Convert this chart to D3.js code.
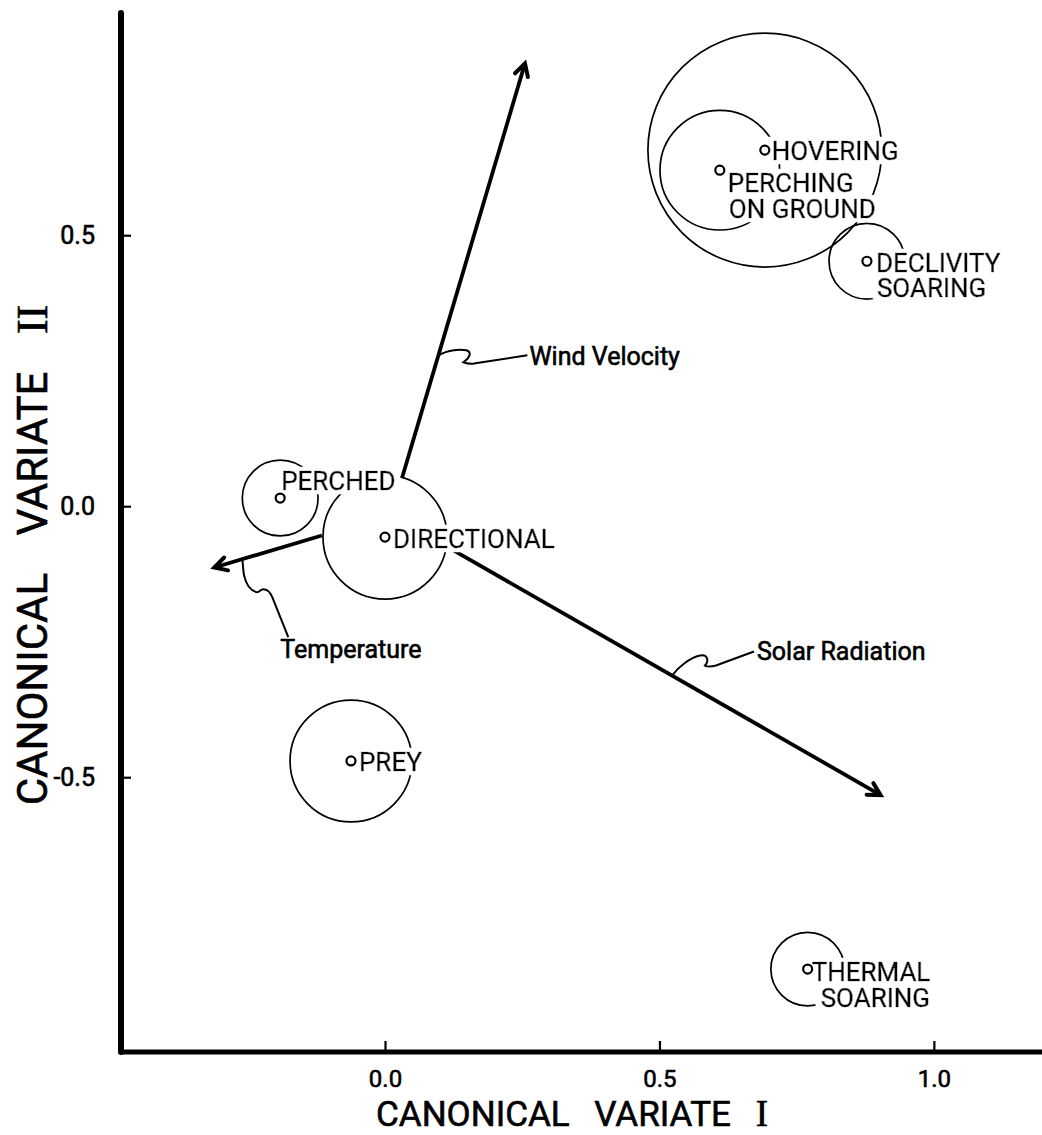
<!DOCTYPE html>
<html>
<head>
<meta charset="utf-8">
<script src="https://cdn.jsdelivr.net/npm/d3@7"></script>
<style>
  html, body { margin: 0; padding: 0; background: #fff; }
  svg { display: block; }
  text { font-family: Roboto, "Liberation Sans", sans-serif; fill: #000; }
  .ink { stroke: #000; stroke-width: 0.6px; }
</style>
</head>
<body>
<svg id="chart" width="1042" height="1135"></svg>
<script>
// Behaviour-group centroids on the first two canonical variates
const groups = ["HOVERING", "PERCHING ON GROUND", "DECLIVITY SOARING", "PERCHED", "DIRECTIONAL", "PREY", "THERMAL SOARING"];
const cv1 = [0.692, 0.610, 0.878, -0.191, 0.000, -0.062, 0.770];
const cv2 = [0.657, 0.620, 0.452, 0.015, -0.057, -0.470, -0.854];
// Radius of the dispersion circle round each centroid (canonical units)
const spread = [0.213, 0.109, 0.069, 0.069, 0.113, 0.111, 0.067];

// Environmental variable vectors (tail and head, canonical units)
const variables = ["Wind Velocity", "Solar Radiation", "Temperature"];
const tailI  = [0.031, 0.124, -0.115];
const tailII = [0.052, -0.081, -0.054];
const headI  = [0.255, 0.903, -0.311];
const headII = [0.817, -0.533, -0.113];

// Axis ticks and titles
const xTicks = [0.0, 0.5, 1.0];
const yTicks = [-0.5, 0.0, 0.5];
const xTitle = ["CANONICAL", "VARIATE", "I"];
const yTitle = ["CANONICAL", "VARIATE", "II"];

// ---- layout ----
const svg = d3.select("#chart");

// white halo drawn behind lettering so the circles break under the labels
const defs = svg.append("defs");
const halo = defs.append("filter").attr("id", "halo")
  .attr("x", "-10%").attr("y", "-30%").attr("width", "120%").attr("height", "160%");
halo.append("feMorphology").attr("in", "SourceAlpha").attr("operator", "dilate").attr("radius", "6 3.5").attr("result", "grow");
halo.append("feFlood").attr("flood-color", "#fff").attr("result", "white");
halo.append("feComposite").attr("in", "white").attr("in2", "grow").attr("operator", "in").attr("result", "pad");
const merge = halo.append("feMerge");
merge.append("feMergeNode").attr("in", "pad");
merge.append("feMergeNode").attr("in", "SourceGraphic");

const x = d3.scaleLinear().domain([-0.481, 1.197]).range([121, 1042]);
const y = d3.scaleLinear().domain([-1.007, 0.910]).range([1052, 13]);
const rPx = v => x(v) - x(0);

// label placement next to each centroid marker (pixels)
const labelPlace = {
  "HOVERING":           { dx: 7,  dy: 10, lines: [[0, 0]] },
  "PERCHING ON GROUND": { dx: 8,  dy: 22, lines: [[0, 0], [1, 26]], split: ["PERCHING", "ON GROUND"] },
  "DECLIVITY SOARING":  { dx: 9,  dy: 11, lines: [[0, 0], [1, 25]], split: ["DECLIVITY", "SOARING"] },
  "PERCHED":            { dx: 1,  dy: -8, lines: [[0, 0]] },
  "DIRECTIONAL":        { dx: 8,  dy: 11, lines: [[0, 0]] },
  "PREY":               { dx: 8,  dy: 10, lines: [[0, 0]] },
  "THERMAL SOARING":    { dx: 4,  dy: 12, lines: [[0, 0], [9, 26]], split: ["THERMAL", "SOARING"] }
};

// leader squiggles from each vector to its label (pixels, relative to anchor)
const leaderPlace = {
  "Wind Velocity":   { t: 0.296, path: "M0,0 C10,-6 22,-6 28,-5 C34,-3 31,3 25,7 C30,9 33,9 37,8 L89,0", tx: 91, ty: 10 },
  "Solar Radiation": { t: 0.512, path: "M0,0 C6,-8 18,-18 28,-20 C36,-22 37,-14 33,-10 C36,-8 40,-9 44,-10 L82,-24", tx: 85, ty: -16 },
  "Temperature":     { t: 0.740, path: "M0,0 C1,8 1,14 2,17 C4,26 8,31 14,33 C17,34 18,30 21,30 C25,30 28,33 30,38 L46,78", tx: 38, ty: 99 }
};

// ---- axes ----
const xAxis = d3.axisBottom(x)
  .tickValues(xTicks)
  .tickSize(-11)
  .tickPadding(18)
  .tickFormat(d => d.toFixed(1));
const gx = svg.append("g").attr("transform", `translate(0,${y.range()[0]})`).call(xAxis);
gx.select(".domain").remove();
gx.selectAll(".tick line").attr("stroke", "#000").attr("stroke-width", 2.2);
gx.selectAll(".tick text").attr("font-size", 24).attr("fill", "#000").attr("class", "ink");

const yAxis = d3.axisLeft(y)
  .tickValues(yTicks)
  .tickSize(-10)
  .tickPadding(26)
  .tickFormat(d => d.toFixed(1));
const gy = svg.append("g").attr("transform", `translate(${x.range()[0]},0)`).call(yAxis);
gy.select(".domain").remove();
gy.selectAll(".tick line").attr("stroke", "#000").attr("stroke-width", 2.2);
gy.selectAll(".tick text").attr("font-size", 25).attr("fill", "#000").attr("class", "ink");

// heavy axis lines
svg.append("line")
  .attr("x1", x.range()[0]).attr("x2", x.range()[0])
  .attr("y1", y.range()[1]).attr("y2", y.range()[0])
  .attr("stroke", "#000").attr("stroke-width", 6).attr("stroke-linecap", "round");
svg.append("line")
  .attr("x1", x.range()[0]).attr("x2", x.range()[1])
  .attr("y1", y.range()[0]).attr("y2", y.range()[0])
  .attr("stroke", "#000").attr("stroke-width", 5);

// axis titles
const xt = svg.append("text")
  .attr("class", "ink")
  .attr("x", 572).attr("y", 1126)
  .attr("text-anchor", "middle")
  .attr("font-size", 35)
  .attr("word-spacing", 16);
xt.append("tspan").text(xTitle[0] + " " + xTitle[1] + " ");
xt.append("tspan").attr("font-family", "'Liberation Serif', serif").attr("font-size", 37).text(xTitle[2]);

const yt = svg.append("text")
  .attr("class", "ink")
  .attr("transform", "translate(47,555) rotate(-90)")
  .attr("text-anchor", "middle")
  .attr("font-size", 42)
  .attr("word-spacing", 27);
yt.append("tspan").text(yTitle[0] + " " + yTitle[1] + " ");
yt.append("tspan").attr("font-family", "'Liberation Serif', serif").attr("font-size", 44).text(yTitle[2]);

// ---- dispersion circles ----
const data = groups.map((g, i) => ({ name: g, cx: cv1[i], cy: cv2[i], r: spread[i] }));
svg.append("g").selectAll("circle")
  .data(data).join("circle")
  .attr("cx", d => x(d.cx)).attr("cy", d => y(d.cy)).attr("r", d => rPx(d.r))
  .attr("fill", "none").attr("stroke", "#000").attr("stroke-width", 1.7);

// ---- variable vectors ----
const vecs = variables.map((v, i) => ({
  name: v, x0: tailI[i], y0: tailII[i], x1: headI[i], y1: headII[i]
}));
const vg = svg.append("g");
vecs.forEach(v => {
  const X0 = x(v.x0), Y0 = y(v.y0), X1 = x(v.x1), Y1 = y(v.y1);
  vg.append("line")
    .attr("x1", X0).attr("y1", Y0).attr("x2", X1).attr("y2", Y1)
    .attr("stroke", "#000").attr("stroke-width", 3.8);
  // open arrow head
  const ang = Math.atan2(Y1 - Y0, X1 - X0);
  const L = 14, half = 0.5;
  const p1 = [X1 - L * Math.cos(ang - half), Y1 - L * Math.sin(ang - half)];
  const p2 = [X1 - L * Math.cos(ang + half), Y1 - L * Math.sin(ang + half)];
  vg.append("path")
    .attr("d", `M${p1[0]},${p1[1]} L${X1},${Y1} L${p2[0]},${p2[1]}`)
    .attr("fill", "none").attr("stroke", "#000").attr("stroke-width", 4)
    .attr("stroke-linejoin", "miter").attr("stroke-linecap", "round");

  // leader and label
  const lp = leaderPlace[v.name];
  const ax = X0 + (X1 - X0) * lp.t, ay = Y0 + (Y1 - Y0) * lp.t;
  vg.append("path")
    .attr("transform", `translate(${ax},${ay})`)
    .attr("d", lp.path)
    .attr("fill", "none").attr("stroke", "#000").attr("stroke-width", 2);
  vg.append("text")
    .attr("class", "ink")
    .attr("x", ax + lp.tx).attr("y", ay + lp.ty)
    .attr("font-size", 25)
    .text(v.name);
});

// ---- centroid labels ----
const lg = svg.append("g");
data.forEach(d => {
  const p = labelPlace[d.name];
  const words = p.split || [d.name];
  p.lines.forEach((ln, k) => {
    lg.append("text")
      .attr("class", "ink")
      .attr("filter", "url(#halo)")
      .attr("x", x(d.cx) + p.dx + ln[0])
      .attr("y", y(d.cy) + p.dy + ln[1])
      .attr("font-size", 26)
      .text(words[k]);
  });
});

// centroid markers
svg.append("g").selectAll("circle")
  .data(data).join("circle")
  .attr("cx", d => x(d.cx)).attr("cy", d => y(d.cy)).attr("r", 4.5)
  .attr("fill", "#fff").attr("stroke", "#000").attr("stroke-width", 2.2);
</script>
</body>
</html>
